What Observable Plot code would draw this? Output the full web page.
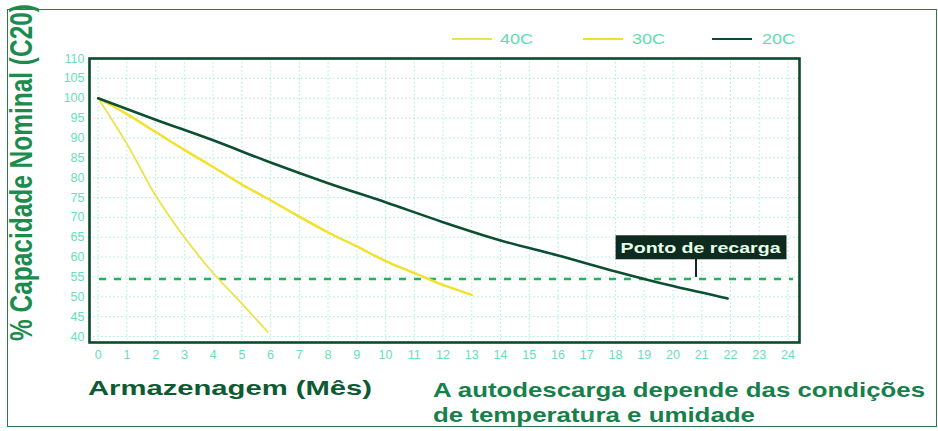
<!DOCTYPE html>
<html><head><meta charset="utf-8">
<script src="https://cdn.jsdelivr.net/npm/d3@7"></script>
<script src="https://cdn.jsdelivr.net/npm/@observablehq/plot@0.6"></script>
<style>
body{margin:0;background:#fff;}
#wrap{position:relative;width:938px;height:431px;overflow:hidden;font-family:"Liberation Sans",Arial,sans-serif;background:#fff;}
#border{position:absolute;left:7px;top:9px;width:930px;height:418px;border:1.6px solid #2a7a4a;box-sizing:border-box;}
#chart{position:absolute;left:0;top:0;}
.t{position:absolute;white-space:nowrap;transform-origin:0 0;line-height:1;}
#ytitle{font-size:24px;font-weight:700;color:#1b8c4c;}
#xtitle{font-size:21px;font-weight:700;color:#0d5a33;}
.note{font-size:21px;font-weight:700;color:#15804a;}
.lg{position:absolute;}
.lgt{position:absolute;font-size:14px;color:#5fdcb2;white-space:nowrap;transform-origin:0 50%;line-height:1;}
</style>
</head><body>
<div id="wrap"><div id="chart"></div><div id="border"></div></div>
<script>
// ---- data ----
const series = ["40C", "30C", "20C"];
const months40 = [0, 1, 2, 3, 4, 5, 5.9];
const cap40    = [100, 88.5, 75.5, 65, 56, 48.3, 41.2];
const months30 = [0, 1, 2, 3, 4, 5, 6, 7, 8, 9, 10, 11, 12, 13];
const cap30    = [100, 96, 91.5, 87, 82.7, 78.3, 74.3, 70.2, 66.2, 62.7, 59, 56, 53, 50.5];
const months20 = [0, 2, 4, 6, 8, 10, 12, 14, 16, 18, 20, 21.9];
const cap20    = [100, 94.6, 89.4, 83.8, 78.6, 73.8, 68.8, 64.2, 60.4, 56.4, 52.7, 49.6];
const xTicks = [0,1,2,3,4,5,6,7,8,9,10,11,12,13,14,15,16,17,18,19,20,21,22,23,24];
const yTicks = [40,45,50,55,60,65,70,75,80,85,90,95,100,105,110];
const recargaLevel = 54.5;
const recargaLabel = "Ponto de recarga";
const recargaAt = {x: 20.96, y: 62.3, pointerX: 20.8, pointerEnd: 55};
const yTitle = "% Capacidade Nominal (C20)";
const xTitle = "Armazenagem (Mês)";
const noteLines = ["A autodescarga depende das condições", "de temperatura e umidade"];

// ---- styles ----
const colors = {"40C": "#ece24a", "30C": "#f2e126", "20C": "#0c4f30"};
const widths = {"40C": 1.8, "30C": 2.4, "20C": 2.6};
const mint = "#66e0b9";

const table = [
  ...months40.map((m, i) => ({s: "40C", m, v: cap40[i]})),
  ...months30.map((m, i) => ({s: "30C", m, v: cap30[i]})),
  ...months20.map((m, i) => ({s: "20C", m, v: cap20[i]}))
];

const chart = Plot.plot({
  width: 938, height: 431,
  marginLeft: 89, marginRight: 139, marginTop: 58, marginBottom: 89,
  x: {domain: [-0.3, 24.4]},
  y: {domain: [38.5, 110]},
  style: {fontFamily: "'Liberation Sans', Arial, sans-serif", fontSize: "12.5px", background: "transparent"},
  marks: [
    Plot.gridX(xTicks, {stroke: "#a8ecd6", strokeOpacity: 1, strokeDasharray: "1.5,2.5"}),
    Plot.gridY(yTicks, {stroke: "#a8ecd6", strokeOpacity: 1, strokeDasharray: "1.5,2.5"}),
    Plot.ruleY([recargaLevel], {stroke: "#22b35e", strokeWidth: 2.6, strokeDasharray: "7,8", insetLeft: 10, insetRight: 6}),
    ...series.map(s => Plot.line(table.filter(d => d.s === s), {
      x: "m", y: "v", stroke: colors[s], strokeWidth: widths[s], curve: "monotone-x"
    })),
    Plot.link([recargaAt], {x1: "pointerX", x2: "pointerX", y1: "y", y2: "pointerEnd", stroke: "#0f2a1e", strokeWidth: 2}),
    Plot.text([recargaAt], {x: "x", y: "y", text: () => recargaLabel, fill: "#e4ffe9", fontWeight: "bold", fontSize: 15}),
    Plot.axisX(xTicks, {tickSize: 0, tickPadding: 8, color: mint, label: null}),
    Plot.axisY(yTicks, {tickSize: 0, tickPadding: 5, color: mint, label: null}),
    Plot.frame({stroke: "#0b4a2a", strokeWidth: 2.6})
  ]
});
document.getElementById("chart").appendChild(chart);

// annotation box behind the label
const svgNS = "http://www.w3.org/2000/svg";
const labelEl = [...chart.querySelectorAll("text")].find(t => t.textContent === recargaLabel);
if (labelEl) {
  labelEl.setAttribute("textLength", 160);
  labelEl.setAttribute("lengthAdjust", "spacingAndGlyphs");
  const b = labelEl.getBBox();
  const r = document.createElementNS(svgNS, "rect");
  r.setAttribute("x", b.x - 5); r.setAttribute("y", b.y - 3.5);
  r.setAttribute("width", b.width + 10); r.setAttribute("height", b.height + 7);
  r.setAttribute("fill", "#0f2a1e");
  const tr = labelEl.getAttribute("transform");
  if (tr) r.setAttribute("transform", tr);
  labelEl.parentNode.insertBefore(r, labelEl);
}

// ---- texts ----
const wrap = document.getElementById("wrap");
function addText(txt, cls, id, left, top) {
  const d = document.createElement("div");
  d.className = "t " + cls; if (id) d.id = id;
  d.textContent = txt; d.style.left = left + "px"; d.style.top = top + "px";
  wrap.appendChild(d); return d;
}
function fitX(el, w) { const r = el.getBoundingClientRect().width; el.style.transform = `scaleX(${w / r})`; }

const yt = addText(yTitle, "", "ytitle", 6, 341);
{ const r = yt.getBoundingClientRect().width; yt.style.transform = `rotate(-90deg) scale(${337 / r}, 1.28)`; }
const xt = addText(xTitle, "", "xtitle", 88, 377);
fitX(xt, 284);
const n1 = addText(noteLines[0], "note", null, 433, 379);
fitX(n1, 492);
const n2 = addText(noteLines[1], "note", null, 433, 404);
fitX(n2, 322);

// ---- legend ----
const legendPos = {"40C": [452, 500], "30C": [583, 632], "20C": [712, 762]};
series.forEach(s => {
  const [lx, tx] = legendPos[s];
  const l = document.createElement("div");
  l.className = "lg";
  l.style.cssText = `left:${lx}px;top:${39 - widths[s] / 2}px;width:40px;height:${widths[s]}px;background:${colors[s]};`;
  wrap.appendChild(l);
  const t = document.createElement("div");
  t.className = "lgt"; t.textContent = s;
  t.style.left = tx + "px"; t.style.top = "32px";
  wrap.appendChild(t);
  fitX(t, 33);
});
</script>
</body></html>
